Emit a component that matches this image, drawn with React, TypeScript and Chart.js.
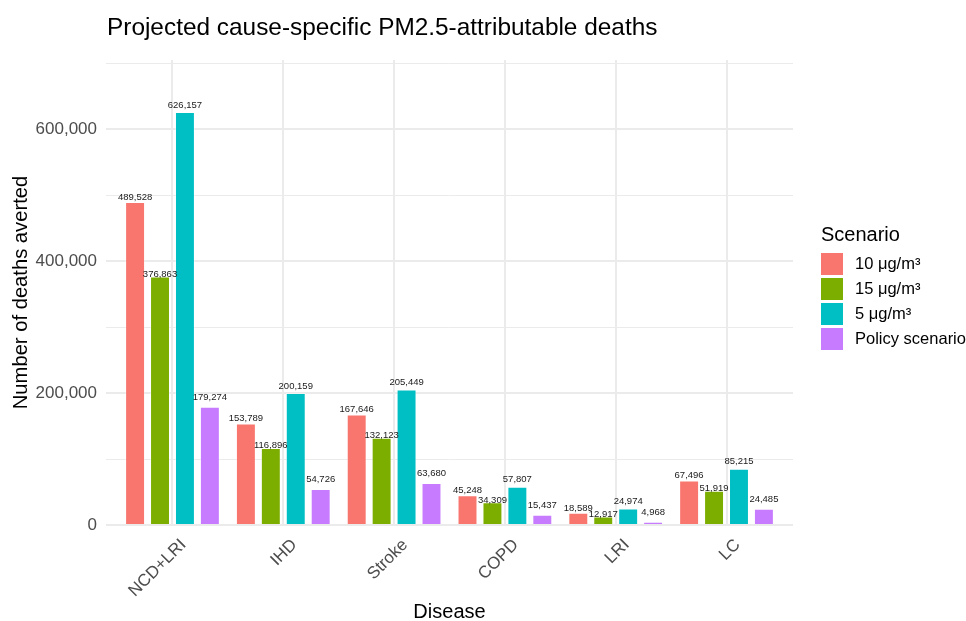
import React, { useEffect, useRef } from "react";
import { Chart, registerables } from "chart.js";

Chart.register(...registerables);

// ---- data ----
const categories = ["NCD+LRI", "IHD", "Stroke", "COPD", "LRI", "LC"];
const scenarios = ["10 μg/m³", "15 μg/m³", "5 μg/m³", "Policy scenario"];
const values10 = [489528, 153789, 167646, 45248, 18589, 67496];
const values15 = [376863, 116896, 132123, 34309, 12917, 51919];
const values5 = [626157, 200159, 205449, 57807, 24974, 85215];
const valuesPolicy = [179274, 54726, 63680, 15437, 4968, 24485];
const yTickLabels = [0, 200000, 400000, 600000];
const yMinorGrid = [100000, 300000, 500000, 700000];

const titleText = "Projected cause-specific PM2.5-attributable deaths";
const xTitle = "Disease";
const yTitle = "Number of deaths averted";
const legendTitle = "Scenario";

// ---- styles ----
const colors = ["#F8766D", "#7CAE00", "#00BFC4", "#C77CFF"];
const labelOffsets = [4.7, 2.4, 7, 9.3];
const FONT = '"Liberation Sans", Arial, Helvetica, sans-serif';
const W = 966;
const H = 621;

const seriesValues = [values10, values15, values5, valuesPolicy];

const fmt = (v: number) => Math.round(v).toLocaleString("en-US");
const isMajor = (v: any) => {
  const n = Number(v);
  return yTickLabels.some((t) => Math.abs(t - n) < 1);
};

const overlay = {
  id: "overlay",
  afterDatasetsDraw(chart: any) {
    const ctx = chart.ctx;
    ctx.save();
    ctx.font = `9.5px ${FONT}`;
    ctx.fillStyle = "#1a1a1a";
    ctx.textAlign = "center";
    ctx.textBaseline = "middle";
    chart.data.datasets.forEach((ds: any, di: number) => {
      const meta = chart.getDatasetMeta(di);
      meta.data.forEach((el: any, i: number) => {
        const v = ds.data[i].y;
        ctx.fillText(fmt(v), el.x, el.y - ds.labelOffset);
      });
    });
    ctx.restore();
  },
  afterDraw(chart: any) {
    const ctx = chart.ctx;
    const area = chart.chartArea;
    ctx.save();
    // title
    ctx.fillStyle = "#000000";
    ctx.font = `24.4px ${FONT}`;
    ctx.textAlign = "left";
    ctx.textBaseline = "alphabetic";
    ctx.fillText(titleText, area.left + 1, 35);

    // x title
    ctx.font = `20px ${FONT}`;
    ctx.textAlign = "center";
    ctx.fillText(xTitle, (area.left + area.right) / 2, 618);

    // y title
    ctx.save();
    ctx.translate(27, (area.top + area.bottom) / 2);
    ctx.rotate(-Math.PI / 2);
    ctx.textAlign = "center";
    ctx.textBaseline = "alphabetic";
    ctx.font = `20.2px ${FONT}`;
    ctx.fillText(yTitle, 0, 0);
    ctx.restore();

    // legend
    ctx.textAlign = "left";
    ctx.textBaseline = "alphabetic";
    ctx.font = `20px ${FONT}`;
    ctx.fillStyle = "#000000";
    ctx.fillText(legendTitle, 821, 241);
    ctx.font = `16.5px ${FONT}`;
    scenarios.forEach((s, i) => {
      const y = 253 + i * 25;
      ctx.fillStyle = colors[i];
      ctx.fillRect(821, y, 22, 22);
      ctx.fillStyle = "#000000";
      ctx.textBaseline = "middle";
      ctx.fillText(s, 855, y + 11.5);
    });
    ctx.restore();
  },
};

export default function App() {
  const ref = useRef<HTMLCanvasElement | null>(null);

  useEffect(() => {
    if (!ref.current) return;
    const datasets = seriesValues.map((vals, si) => ({
      label: scenarios[si],
      data: vals.map((v, i) => ({ x: i, y: v })),
      backgroundColor: colors[si],
      borderColor: "rgba(255,255,255,0.35)",
      borderWidth: 1,
      categoryPercentage: 0.9,
      barPercentage: 0.8,
      labelOffset: labelOffsets[si],
    }));

    const chart = new Chart(ref.current, {
      type: "bar",
      data: { datasets } as any,
      plugins: [overlay as any],
      options: {
        animation: false,
        responsive: false,
        maintainAspectRatio: false,
        layout: { padding: { top: 60, right: 173, bottom: 0, left: 0 } },
        plugins: {
          legend: { display: false },
          title: { display: false },
          tooltip: { enabled: false },
        },
        scales: {
          x: {
            type: "linear",
            offset: false,
            min: -0.6,
            max: 5.6,
            afterFit: (s: any) => {
              s.height = 96;
            },
            afterBuildTicks: (s: any) => {
              s.ticks = categories.map((_, i) => ({ value: i }));
            },
            ticks: {
              autoSkip: false,
              minRotation: 45,
              maxRotation: 45,
              padding: 10,
              labelOffset: 11,
              color: "#4D4D4D",
              font: { family: FONT, size: 17 },
              callback: (v: any) => categories[Math.round(Number(v))] ?? "",
            },
            grid: { color: "#EBEBEB", lineWidth: 2, drawTicks: false, offset: false },
            border: { display: false },
          },
          y: {
            type: "linear",
            min: 0,
            max: 705000,
            afterFit: (s: any) => {
              s.width = 106;
            },
            afterBuildTicks: (s: any) => {
              s.ticks = [...yTickLabels, ...yMinorGrid]
                .sort((a, b) => a - b)
                .map((v) => ({ value: v }));
            },
            ticks: {
              autoSkip: false,
              padding: 9,
              color: "#4D4D4D",
              font: { family: FONT, size: 17 },
              callback: (v: any) => (isMajor(v) ? fmt(Number(v)) : ""),
            },
            grid: {
              color: "#EBEBEB",
              lineWidth: (c: any) => (c.tick && isMajor(c.tick.value) ? 2 : 1),
              drawTicks: false,
            },
            border: { display: false },
          },
        },
      } as any,
    });
    return () => chart.destroy();
  }, []);

  return (
    <div
      style={{
        position: "fixed",
        left: 0,
        top: 0,
        width: W,
        height: H,
        background: "#ffffff",
      }}
    >
      <canvas ref={ref} width={W} height={H} />
    </div>
  );
}
